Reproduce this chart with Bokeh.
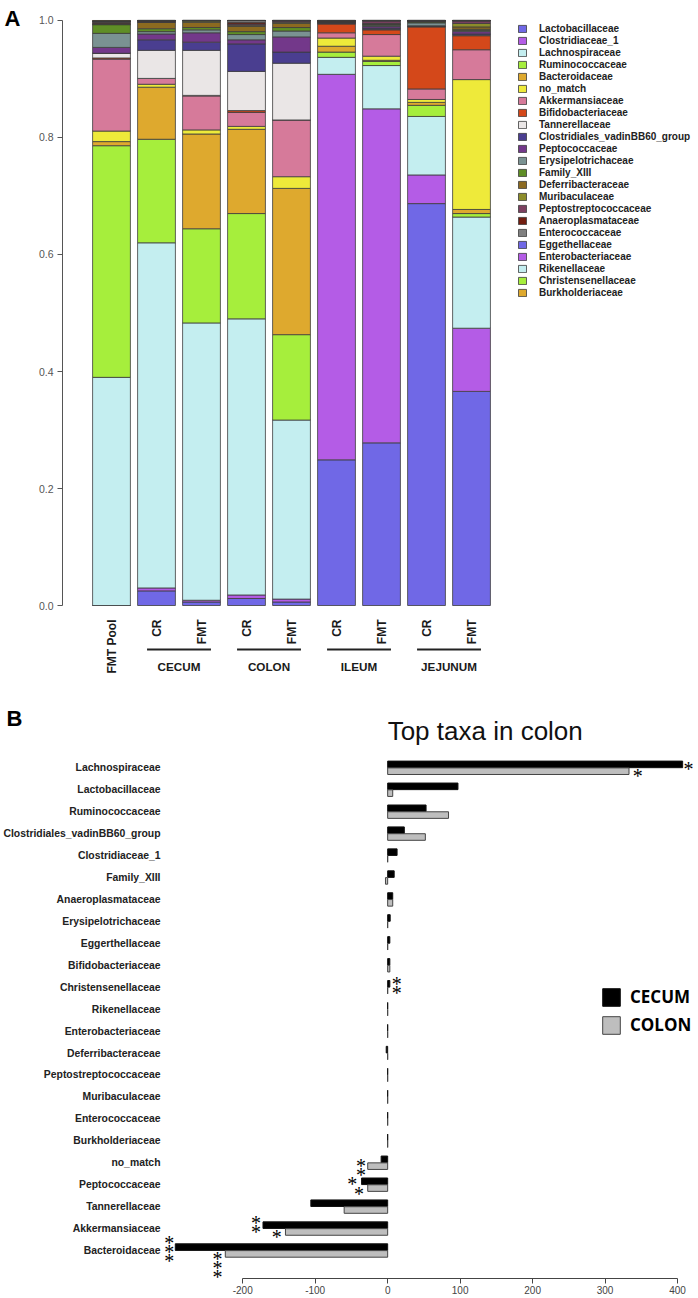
import math
from bokeh.plotting import figure
from bokeh.models import (ColumnDataSource, Range1d, FixedTicker, PrintfTickFormatter,
                          Legend, LegendItem, Label, LabelSet, LinearAxis)
from bokeh.layouts import column
from bokeh.transform import dodge
from bokeh.core.properties import value
from bokeh.embed import file_html
from bokeh.resources import INLINE

# ---------------- Panel A data ----------------
samples = ["FMT Pool", "CR", "FMT", "CR", "FMT", "CR", "FMT", "CR", "FMT"]
groups = ["CECUM", "COLON", "ILEUM", "JEJUNUM"]
group_members = [(1, 2), (3, 4), (5, 6), (7, 8)]

taxa_A = ["Lactobacillaceae", "Clostridiaceae_1", "Lachnospiraceae", "Ruminococcaceae",
          "Bacteroidaceae", "no_match", "Akkermansiaceae", "Bifidobacteriaceae",
          "Tannerellaceae", "Clostridiales_vadinBB60_group", "Peptococcaceae",
          "Erysipelotrichaceae", "Family_XIII", "Deferribacteraceae", "Muribaculaceae",
          "Peptostreptococcaceae", "Anaeroplasmataceae", "Enterococcaceae",
          "Eggethellaceae", "Enterobacteriaceae", "Rikenellaceae",
          "Christensenellaceae", "Burkholderiaceae"]

# order of values: FMT Pool, CECUM CR, CECUM FMT, COLON CR, COLON FMT,
#                  ILEUM CR, ILEUM FMT, JEJUNUM CR, JEJUNUM FMT
Lactobacillaceae      = [0.000, 0.025, 0.006, 0.012, 0.006, 0.249, 0.278, 0.687, 0.366]
Clostridiaceae_1      = [0.000, 0.005, 0.003, 0.006, 0.005, 0.659, 0.571, 0.049, 0.108]
Lachnospiraceae       = [0.390, 0.590, 0.474, 0.472, 0.306, 0.029, 0.074, 0.100, 0.190]
Ruminococcaceae       = [0.396, 0.177, 0.161, 0.180, 0.146, 0.009, 0.007, 0.019, 0.006]
Bacteroidaceae        = [0.007, 0.089, 0.162, 0.144, 0.250, 0.010, 0.002, 0.005, 0.007]
no_match              = [0.018, 0.005, 0.007, 0.005, 0.020, 0.014, 0.007, 0.005, 0.222]
Akkermansiaceae       = [0.123, 0.010, 0.058, 0.024, 0.097, 0.009, 0.037, 0.018, 0.051]
Bifidobacteriaceae    = [0.002, 0.000, 0.001, 0.003, 0.000, 0.015, 0.008, 0.106, 0.024]
Tannerellaceae        = [0.008, 0.048, 0.077, 0.067, 0.097, 0.001, 0.001, 0.001, 0.001]
vadinBB60_group       = [0.000, 0.018, 0.014, 0.047, 0.019, 0.000, 0.002, 0.000, 0.002]
Peptococcaceae        = [0.010, 0.010, 0.016, 0.007, 0.026, 0.001, 0.003, 0.001, 0.004]
Erysipelotrichaceae   = [0.024, 0.004, 0.005, 0.009, 0.010, 0.001, 0.002, 0.005, 0.002]
Family_XIII           = [0.015, 0.005, 0.004, 0.005, 0.006, 0.000, 0.001, 0.002, 0.002]
Deferribacteraceae    = [0.000, 0.011, 0.009, 0.009, 0.007, 0.001, 0.001, 0.000, 0.004]
Muribaculaceae        = [0.001, 0.000, 0.002, 0.002, 0.002, 0.000, 0.001, 0.000, 0.006]
Peptostreptococcaceae = [0.001, 0.001, 0.001, 0.002, 0.002, 0.000, 0.004, 0.001, 0.004]
Anaeroplasmataceae    = [0.002, 0.001, 0.000, 0.003, 0.001, 0.001, 0.001, 0.001, 0.001]
Enterococcaceae       = [0.001, 0.001, 0.000, 0.003, 0.000, 0.001, 0.000, 0.000, 0.000]
Eggethellaceae        = [0.001, 0.000, 0.000, 0.000, 0.000, 0.000, 0.000, 0.000, 0.000]
Enterobacteriaceae    = [0.000, 0.000, 0.000, 0.000, 0.000, 0.000, 0.000, 0.000, 0.000]
Rikenellaceae         = [0.000, 0.000, 0.000, 0.000, 0.000, 0.000, 0.000, 0.000, 0.000]
Christensenellaceae   = [0.000, 0.000, 0.000, 0.000, 0.000, 0.000, 0.000, 0.000, 0.000]
Burkholderiaceae      = [0.001, 0.000, 0.000, 0.000, 0.000, 0.000, 0.000, 0.000, 0.000]

values_A = [Lactobacillaceae, Clostridiaceae_1, Lachnospiraceae, Ruminococcaceae,
            Bacteroidaceae, no_match, Akkermansiaceae, Bifidobacteriaceae, Tannerellaceae,
            vadinBB60_group, Peptococcaceae, Erysipelotrichaceae, Family_XIII,
            Deferribacteraceae, Muribaculaceae, Peptostreptococcaceae, Anaeroplasmataceae,
            Enterococcaceae, Eggethellaceae, Enterobacteriaceae, Rikenellaceae,
            Christensenellaceae, Burkholderiaceae]

base_colors = ["#7068E6", "#B45CE6", "#C4EEF0", "#A6EE3C", "#DEA92E", "#EEEA3A",
               "#D67A9A", "#D4481A", "#EAE6E6", "#4A3E90", "#73388A", "#7A9292",
               "#5F8E26", "#8C6A20", "#8C8C2A", "#7C4060", "#721E10", "#808080"]
colors_A = [base_colors[i % len(base_colors)] for i in range(len(taxa_A))]

y_ticks_A = [0.0, 0.2, 0.4, 0.6, 0.8, 1.0]

# ---------------- Panel B data ----------------
taxa_B = ["Lachnospiraceae", "Lactobacillaceae", "Ruminococcaceae",
          "Clostridiales_vadinBB60_group", "Clostridiaceae_1", "Family_XIII",
          "Anaeroplasmataceae", "Erysipelotrichaceae", "Eggerthellaceae",
          "Bifidobacteriaceae", "Christensenellaceae", "Rikenellaceae",
          "Enterobacteriaceae", "Deferribacteraceae", "Peptostreptococcaceae",
          "Muribaculaceae", "Enterococcaceae", "Burkholderiaceae", "no_match",
          "Peptococcaceae", "Tannerellaceae", "Akkermansiaceae", "Bacteroidaceae"]
cecum_B = [407, 97, 53, 23, 13, 9, 7, 3.5, 3, 3, 3, 0, 0, -2, 0, 0, 0, 0,
           -9, -36, -106, -172, -293]
colon_B = [333, 7, 84, 52, 0, -3, 7, 0, 0, 3, 0, 0, 0, 0, 0, 0, 0, 0,
           -27.5, -27.5, -60, -141, -224]
x_ticks_B = [-200, -100, 0, 100, 200, 300, 400]

star_taxon = ["Lachnospiraceae", "Lachnospiraceae", "Christensenellaceae", "no_match",
              "Peptococcaceae", "Peptococcaceae", "Akkermansiaceae", "Akkermansiaceae",
              "Bacteroidaceae", "Bacteroidaceae"]
star_series = ["CECUM", "COLON", "CECUM", "COLON", "CECUM", "COLON", "CECUM", "COLON",
               "CECUM", "COLON"]
star_text = ["*", "*", "*\n*", "*\n*", "*", "*", "*\n*", "*", "*\n*\n*", "*\n*\n*"]
# placement (style): pixel offset from bar end, vertical shift in category units
star_dx = [5.9, 8.7, 6.8, -6.7, -9.3, -8.7, -7.0, -8.7, -6.1, -7.7]
star_dy = [-0.055, -0.365, -0.064, -0.338, 0.027, -0.442, 0.045, -0.374, -0.073, -0.803]

FONT = "Liberation Sans"

# ================= Panel A =================
pA = figure(width=698, height=700,
            x_range=Range1d(-1.0889, 13.044), y_range=Range1d(-0.16239, 1.02051),
            x_axis_type=None, output_backend="svg", toolbar_location=None,
            min_border_left=62, min_border_right=0, min_border_top=8, min_border_bottom=0,
            frame_align=False)
pA.outline_line_color = None
pA.grid.visible = False

dataA = {"x": list(range(len(samples)))}
for t, v in zip(taxa_A, values_A):
    dataA[t] = v
srcA = ColumnDataSource(dataA)
rA = pA.vbar_stack(taxa_A, x="x", width=0.84, source=srcA, fill_color=colors_A,
                   line_color="#3c3c3c", line_width=0.8)

ya = pA.yaxis[0]
ya.ticker = FixedTicker(ticks=y_ticks_A)
ya.formatter = PrintfTickFormatter(format="%.1f")
ya.bounds = (0, 1)
ya.axis_line_color = "#555555"
ya.major_tick_line_color = "#555555"
ya.major_tick_out = 5
ya.major_tick_in = 0
ya.minor_tick_line_color = None
ya.major_label_text_font = FONT
ya.major_label_text_font_size = "10.5px"
ya.major_label_text_color = "#555555"
ya.major_label_standoff = 4

# panel letter "A" as the label of a bare extra axis
axA = LinearAxis(ticker=FixedTicker(ticks=[1.0034]), major_label_overrides={1.0034: "A"},
                 axis_line_color=None, major_tick_line_color=None,
                 minor_tick_line_color=None, major_tick_out=0, major_tick_in=0,
                 major_label_standoff=15, major_label_text_font=FONT,
                 major_label_text_font_style="bold", major_label_text_font_size="22px",
                 major_label_text_color="#000000")
pA.add_layout(axA, "left")

# sample labels, group lines and group names under the bars
pA.text(x=list(range(len(samples))), y=-0.0239, text=samples, angle=math.pi / 2,
        text_align="right", text_baseline="middle", text_font=value(FONT),
        text_font_style="bold", text_font_size="12px", text_color="#1a1a1a")
gx0 = [a - 0.21 for a, b in group_members]
gx1 = [b + 0.21 for a, b in group_members]
gxc = [(a + b) / 2 for a, b in group_members]
pA.segment(x0=gx0, y0=-0.075, x1=gx1, y1=-0.075, line_width=2, line_color="#222222")
pA.text(x=gxc, y=-0.104, text=groups, text_align="center", text_baseline="middle",
        text_font=value(FONT), text_font_style="bold", text_font_size="11.7px",
        text_color="#1a1a1a")

legA = Legend(items=[LegendItem(label=t, renderers=[r]) for t, r in zip(taxa_A, rA)],
              location=(455, 402), padding=0, margin=0, spacing=0,
              label_height=12, glyph_height=9, glyph_width=10, label_standoff=12,
              label_text_font=FONT, label_text_font_style="bold",
              label_text_font_size="10px", label_text_color="#222222",
              border_line_color=None, background_fill_alpha=0)
pA.add_layout(legA)

# ================= Panel B =================
pos_B = list(range(len(taxa_B) - 1, -1, -1))
pB = figure(width=698, height=598,
            x_range=Range1d(-310.65, 428.87), y_range=Range1d(-1.276, 25.067),
            output_backend="svg", toolbar_location=None,
            min_border_left=160, min_border_right=0, min_border_top=0, min_border_bottom=20,
            frame_align=False)
pB.outline_line_color = None
pB.grid.visible = False

srcB = ColumnDataSource(dict(taxon=taxa_B, pos=pos_B, cecum=cecum_B, colon=colon_B))
rc = pB.hbar(y=dodge("pos", 0.155), left=0, right="cecum", height=0.3, source=srcB,
             fill_color="#000000", line_color="#111111", line_width=1)
rl = pB.hbar(y=dodge("pos", -0.155), left=0, right="colon", height=0.3, source=srcB,
             fill_color="#BEBEBE", line_color="#444444", line_width=1)

yb = pB.yaxis[0]
yb.ticker = FixedTicker(ticks=pos_B)
yb.major_label_overrides = {p: t for p, t in zip(pos_B, taxa_B)}
yb.axis_line_color = None
yb.major_tick_line_color = None
yb.minor_tick_line_color = None
yb.major_tick_out = 0
yb.major_label_standoff = 2
yb.major_label_text_font = FONT
yb.major_label_text_font_style = "bold"
yb.major_label_text_font_size = "10.4px"
yb.major_label_text_color = "#222222"

# panel letter "B" as the label of a bare extra axis
axB = LinearAxis(ticker=FixedTicker(ticks=[24.23]), major_label_overrides={24.23: "B"},
                 axis_line_color=None, major_tick_line_color=None,
                 minor_tick_line_color=None, major_tick_out=0, major_tick_in=0,
                 major_label_standoff=-22, major_label_text_font=FONT,
                 major_label_text_font_style="bold", major_label_text_font_size="22px",
                 major_label_text_color="#000000")
pB.add_layout(axB, "left")

xb = pB.xaxis[0]
xb.ticker = FixedTicker(ticks=x_ticks_B)
xb.major_label_overrides = {t: str(t) for t in x_ticks_B}
xb.bounds = (-200, 400)
xb.axis_line_color = "#444444"
xb.major_tick_line_color = "#444444"
xb.minor_tick_line_color = None
xb.major_tick_out = 5
xb.major_tick_in = 0
xb.major_label_standoff = 2
xb.major_label_text_font = FONT
xb.major_label_text_font_size = "10px"
xb.major_label_text_color = "#444444"

pB.add_layout(Label(x=0, y=23.66, text="Top taxa in colon", text_font=FONT,
                    text_font_style="normal", text_font_size="26px",
                    text_baseline="middle", text_align="left", text_color="#111111"))

legB = Legend(items=[LegendItem(label="CECUM", renderers=[rc]),
                     LegendItem(label="COLON", renderers=[rl])],
              location=(438, 242), padding=0, margin=0, spacing=5,
              glyph_width=22, glyph_height=22, label_standoff=8,
              label_text_font="Open Sans", label_text_font_style="bold",
              label_text_font_size="17px", label_text_color="#000000",
              border_line_color=None, background_fill_alpha=0)
pB.add_layout(legB)

# significance stars (stacked vertically, one per line)
lookup = {"CECUM": dict(zip(taxa_B, cecum_B)), "COLON": dict(zip(taxa_B, colon_B))}
posmap = dict(zip(taxa_B, pos_B))
sx = [lookup[s][t] for t, s in zip(star_taxon, star_series)]
sy = [posmap[t] + d for t, d in zip(star_taxon, star_dy)]
srcS = ColumnDataSource(dict(x=sx, y=sy, text=star_text, dx=star_dx))
pB.add_layout(LabelSet(x="x", y="y", text="text", x_offset="dx", source=srcS,
                       text_align="center", text_baseline="middle",
                       text_line_height=0.42,
                       text_font=FONT, text_font_size="20px", text_color="#000000"))

layout = column(pA, pB, spacing=0)
open("out.html", "w").write(file_html(layout, INLINE, "Top taxa"))
